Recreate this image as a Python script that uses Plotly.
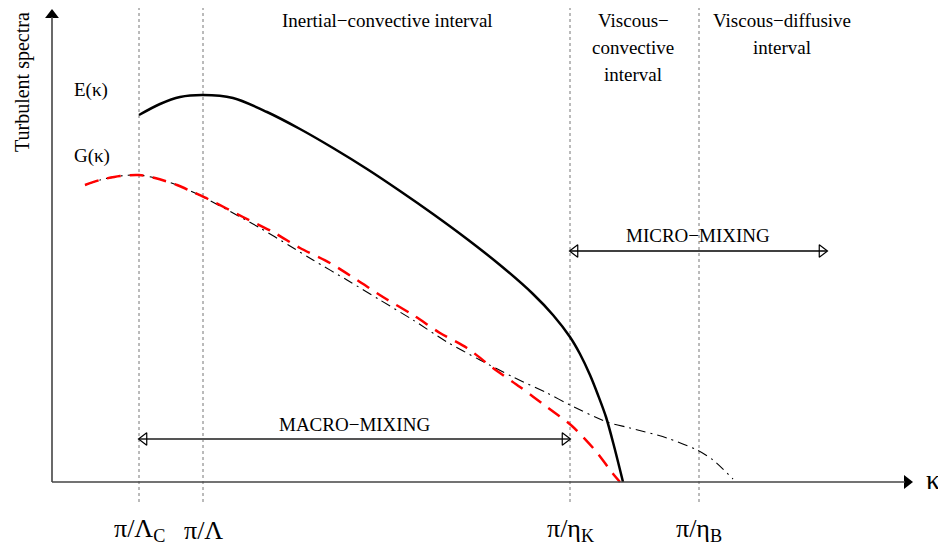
import plotly.graph_objects as go

# Schematic spectrum, wavenumber on x (arbitrary units), spectral level on y
# Characteristic wavenumbers
k_lambda_c = 87    # pi / Lambda_C
k_lambda = 151     # pi / Lambda
k_eta_k = 518      # pi / eta_K
k_eta_b = 647      # pi / eta_B
k_micro_end = 775  # right end of the micro-mixing arrow
tick_labels = ["π/Λ<sub>C</sub>", "π/Λ", "π/η<sub>K</sub>", "π/η<sub>B</sub>"]

# E(kappa) - kinetic energy spectrum (solid)
e_k = [87, 108, 128, 151, 181, 215, 248, 281, 315, 348, 381, 415, 448, 481,
       501, 518, 528, 538, 546, 554, 562, 571]
e_val = [367, 378, 385, 387, 384, 370, 353, 334, 313, 291, 268, 243, 217, 188,
         167, 145, 128, 107, 87, 65, 36, 0]

# G(kappa) - scalar spectrum (red dashed)
g_k = [33, 48, 68, 87, 103, 125, 143, 156, 191, 221, 248, 278, 305, 331, 361,
       388, 415, 441, 468, 495, 520, 542, 562, 568]
g_val = [297, 302, 306, 307, 304, 297, 289, 283, 265, 250, 234, 219, 202, 185,
         167, 149, 134, 114, 95, 75, 56, 33, 7, 0]

# G(kappa) at high Schmidt number (dash-dot)
gs_k = [33, 48, 68, 87, 103, 125, 143, 153, 181, 208, 238, 261, 295, 328, 361,
        395, 428, 461, 495, 518, 555, 578, 615, 645, 661, 681]
gs_val = [297, 302, 306, 307, 304, 297, 289, 284, 269, 254, 236, 222, 202, 182,
          162, 140, 122, 105, 89, 77, 60, 54, 44, 32, 22, 3]

x_max = 861   # end of the kappa axis
y_max = 473   # end of the spectra axis

serif = "Liberation Serif, Times New Roman, serif"

fig = go.Figure()

fig.add_trace(go.Scatter(
    x=gs_k, y=gs_val, mode="lines",
    line=dict(color="black", width=1.1, dash="10px,5px,2px,5px", shape="spline", smoothing=0.8),
    showlegend=False, hoverinfo="skip"
))
fig.add_trace(go.Scatter(
    x=g_k, y=g_val, mode="lines",
    line=dict(color="red", width=2.5, dash="14px,9px", shape="spline", smoothing=0.8),
    showlegend=False, hoverinfo="skip"
))
fig.add_trace(go.Scatter(
    x=e_k, y=e_val, mode="lines",
    line=dict(color="black", width=2.5, shape="spline", smoothing=0.9),
    showlegend=False, hoverinfo="skip"
))

# dotted verticals at the characteristic wavenumbers
for k in [k_lambda_c, k_lambda, k_eta_k, k_eta_b]:
    fig.add_shape(type="line", x0=k, x1=k, y0=-20, y1=474,
                  line=dict(color="#777", width=1, dash="dot"), layer="below")


def dim_arrow(x0, x1, y, color, width):
    # double-headed arrow with open triangle heads
    fig.add_trace(go.Scatter(
        x=[x0, x1], y=[y, y], mode="lines",
        line=dict(color=color, width=width),
        showlegend=False, hoverinfo="skip"
    ))
    fig.add_trace(go.Scatter(
        x=[x0 + 5, x1 - 5], y=[y, y], mode="markers",
        marker=dict(symbol=["triangle-left-open", "triangle-right-open"],
                    size=11, color="black",
                    line=dict(color="black", width=1.2)),
        showlegend=False, hoverinfo="skip"
    ))


dim_arrow(k_lambda_c, k_eta_k, 43, "#555", 2)
dim_arrow(k_eta_k, k_micro_end, 231, "black", 1.3)

# axes: lines plus filled arrow heads
fig.add_shape(type="line", x0=0, x1=x_max - 8, y0=0, y1=0, line=dict(color="#444", width=1.6))
fig.add_shape(type="line", x0=0, x1=0, y0=0, y1=y_max - 8, line=dict(color="#444", width=1.6))
fig.add_trace(go.Scatter(
    x=[x_max - 6, 0], y=[0, y_max - 6], mode="markers",
    marker=dict(symbol=["triangle-right", "triangle-up"], size=12, color="black",
                line=dict(width=0)),
    showlegend=False, hoverinfo="skip"
))

txt = dict(font=dict(family=serif, size=19, color="black"), showarrow=False)

fig.add_annotation(x=-30, y=400, text="Turbulent spectra", textangle=-90,
                   font=dict(family=serif, size=20, color="black"), showarrow=False)
fig.add_annotation(x=39, y=392, text="E(κ)", **txt)
fig.add_annotation(x=40, y=326, text="G(κ)", **txt)
fig.add_annotation(x=335, y=462, text="Inertial−convective interval", **txt)
fig.add_annotation(x=581, y=462, text="Viscous−", **txt)
fig.add_annotation(x=581, y=435, text="convective", **txt)
fig.add_annotation(x=581, y=408, text="interval", **txt)
fig.add_annotation(x=730, y=462, text="Viscous−diffusive", **txt)
fig.add_annotation(x=730, y=435, text="interval", **txt)
fig.add_annotation(x=646, y=247, text="MICRO−MIXING", **txt)
fig.add_annotation(x=302, y=58, text="MACRO−MIXING", **txt)
fig.add_annotation(x=881, y=3, text="κ",
                   font=dict(family=serif, size=28, color="black"), showarrow=False)

for k, lab in zip([k_lambda_c, k_lambda, k_eta_k, k_eta_b], tick_labels):
    fig.add_annotation(x=k, y=-48, text=lab,
                       font=dict(family=serif, size=26, color="black"), showarrow=False)

# the page body keeps an 8 px margin, so the figure is 8 px smaller each way
fig.update_xaxes(visible=False, range=[-44, 894])
fig.update_yaxes(visible=False, range=[-74, 474])
fig.update_layout(
    width=938, height=548,
    margin=dict(l=0, r=0, t=0, b=0),
    plot_bgcolor="white", paper_bgcolor="white",
    showlegend=False
)

fig.write_html("out.html")
